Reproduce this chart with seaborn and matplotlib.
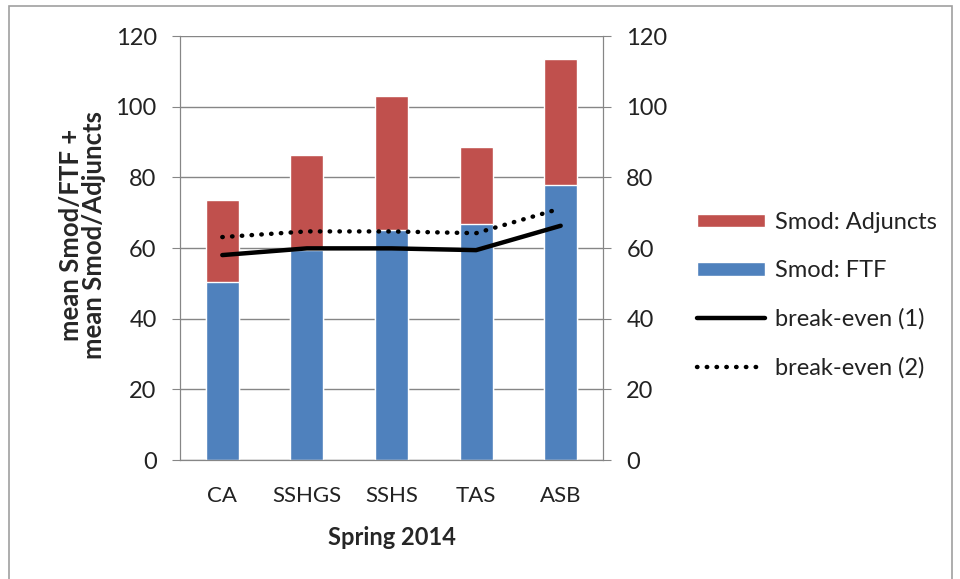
import numpy as np
import pandas as pd
import matplotlib
matplotlib.use("Agg")
import matplotlib.pyplot as plt
from matplotlib.patches import Patch, Rectangle
from matplotlib.lines import Line2D
import seaborn as sns

categories = ["CA", "SSHGS", "SSHS", "TAS", "ASB"]
smod_ftf = [50.5, 59.5, 65.1, 66.8, 77.9]
smod_adjuncts = [23.1, 26.8, 37.9, 21.8, 35.6]
break_even_1 = [58.0, 59.9, 59.9, 59.4, 66.3]
break_even_2 = [63.1, 64.7, 64.7, 64.2, 71.2]

RED = "#C0504D"
BLUE = "#4F81BD"
GRID = "#868686"
DOTS = (0, (0.1, 2.1))


def main():
    sns.set_style("white")
    plt.rcParams["font.family"] = ["Lato", "Liberation Sans", "DejaVu Sans"]
    plt.rcParams["text.color"] = "#222222"

    df = pd.DataFrame({
        "school": categories,
        "ftf": smod_ftf,
        "total": np.array(smod_ftf) + np.array(smod_adjuncts),
    })

    fig = plt.figure(figsize=(9.6, 5.79), dpi=100)
    ax = fig.add_axes([0.1875, 0.2055, 0.4406, 0.7323])

    # stacked bars: full total in red, FTF part in blue on top of it
    sns.barplot(data=df, x="school", y="total", color=RED, saturation=1,
                width=0.39, ax=ax, zorder=2)
    sns.barplot(data=df, x="school", y="ftf", color=BLUE, saturation=1,
                width=0.39, ax=ax, zorder=2)

    pos = np.arange(len(categories))
    ax.plot(pos, break_even_1, color="black", lw=3.2, solid_capstyle="round", zorder=3)
    ax.plot(pos, break_even_2, color="black", lw=3.2, linestyle=DOTS,
            dash_capstyle="round", zorder=3)

    ax.set_ylim(0, 120)
    ax.set_yticks(range(0, 121, 20))
    ax.set_xlim(-0.5, len(categories) - 0.5)
    ax.yaxis.grid(True, color=GRID, lw=1, zorder=0)
    ax.set_axisbelow(True)

    ax.spines["top"].set_visible(False)
    for side in ["left", "right", "bottom"]:
        ax.spines[side].set_color(GRID)

    ax.tick_params(axis="y", length=5.8, color=GRID, labelsize=17, pad=11, left=True,
                   labelcolor="#222222")
    ax.tick_params(axis="x", length=0, labelsize=16, pad=19, labelcolor="#222222")
    ax.set_xticks(np.arange(-0.5, len(categories)), minor=True)
    ax.tick_params(axis="x", which="minor", length=5, color=GRID)

    ax2 = ax.twinx()
    ax2.set_ylim(0, 120)
    ax2.set_yticks(range(0, 121, 20))
    ax2.spines["top"].set_visible(False)
    for side in ["left", "right", "bottom"]:
        ax2.spines[side].set_color(GRID)
    ax2.tick_params(axis="y", length=5.8, color=GRID, labelsize=17, pad=11, right=True,
                    labelcolor="#222222")

    ax.set_xlabel("Spring 2014", fontsize=17, fontweight="bold", labelpad=14)
    ax.set_ylabel("mean Smod/FTF +\nmean Smod/Adjuncts", fontsize=18.5,
                  fontweight="bold", labelpad=6, linespacing=0.95)
    ax.yaxis.set_label_coords(-0.175, 0.53)

    handles = [
        Patch(facecolor=RED, label="Smod: Adjuncts"),
        Patch(facecolor=BLUE, label="Smod: FTF"),
        Line2D([], [], color="black", lw=3.2, label="break-even (1)"),
        Line2D([], [], color="black", lw=3.2, linestyle=DOTS,
               dash_capstyle="round", label="break-even (2)"),
    ]
    fig.legend(handles=handles, loc="center left", bbox_to_anchor=(0.716, 0.49),
               frameon=False, fontsize=17, handlelength=2.9, handleheight=0.5,
               labelspacing=1.15, handletextpad=0.4, borderaxespad=0)

    fig.add_artist(Rectangle((0.009, -0.01), 0.983, 0.999, transform=fig.transFigure,
                             fill=False, edgecolor="#A0A0A0", lw=1.2))

    fig.savefig("out.png", dpi=100)


if __name__ == "__main__":
    main()
